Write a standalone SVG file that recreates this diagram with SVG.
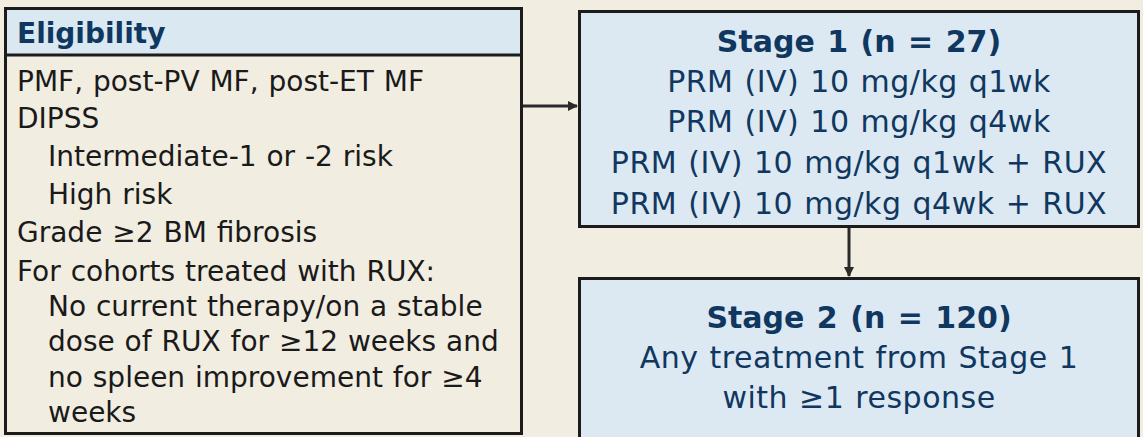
<svg xmlns="http://www.w3.org/2000/svg" width="1143" height="437" viewBox="0 0 1143 437">
<style>
.box{stroke:#1c1c1c;stroke-width:3}
.lt{font-family:"DejaVu Sans",Verdana,sans-serif;font-size:28px;fill:#1a1a1a;word-spacing:1px}
.hd{font-family:"DejaVu Sans",Verdana,sans-serif;font-size:28px;font-weight:bold;fill:#10375f}
.st{font-family:"DejaVu Sans",Verdana,sans-serif;font-size:30px;font-weight:bold;fill:#10375f;text-anchor:middle;word-spacing:2px}
.sl{font-family:"DejaVu Sans",Verdana,sans-serif;font-size:30px;fill:#10375f;text-anchor:middle;letter-spacing:0.5px;word-spacing:1px}
.conn{stroke:#2a2a2a;stroke-width:3;fill:none}
</style>
<defs>
<marker id="arr" markerWidth="10" markerHeight="10" refX="9" refY="5" orient="auto" markerUnits="userSpaceOnUse">
<path d="M0,0 L10,5 L0,10 Z" fill="#2a2a2a"/>
</marker>
</defs>
<rect width="1143" height="437" fill="#f1ede1"/>
<g id="eligibility">
<rect class="box" x="5.5" y="8.5" width="516" height="425" fill="#f1ede1"/>
<rect x="5.5" y="8.5" width="516" height="46.5" fill="#d9e8f1" class="box"/>
<text class="hd" x="17" y="43">Eligibility</text>
<text class="lt" x="17" y="91">PMF, post-PV MF, post-ET MF</text>
<text class="lt" x="17" y="128">DIPSS</text>
<text class="lt" x="48" y="166">Intermediate-1 or -2 risk</text>
<text class="lt" x="48" y="204">High risk</text>
<text class="lt" x="17" y="242">Grade ≥2 BM fibrosis</text>
<text class="lt" x="17" y="281">For cohorts treated with RUX:</text>
<text class="lt" x="48" y="316">No current therapy/on a stable</text>
<text class="lt" x="48" y="351">dose of RUX for ≥12 weeks and</text>
<text class="lt" x="48" y="387">no spleen improvement for ≥4</text>
<text class="lt" x="48" y="422">weeks</text>
</g>
<g id="stage1">
<rect class="box" x="579.5" y="11.5" width="559" height="215" fill="#dce9f2"/>
<text class="st" x="859" y="52">Stage 1 (n = 27)</text>
<text class="sl" x="859" y="92">PRM (IV) 10 mg/kg q1wk</text>
<text class="sl" x="859" y="132">PRM (IV) 10 mg/kg q4wk</text>
<text class="sl" x="859" y="173">PRM (IV) 10 mg/kg q1wk + RUX</text>
<text class="sl" x="859" y="214">PRM (IV) 10 mg/kg q4wk + RUX</text>
</g>
<g id="stage2">
<rect class="box" x="579.5" y="278.5" width="559" height="170" fill="#dce9f2"/>
<text class="st" x="859" y="328">Stage 2 (n = 120)</text>
<text class="sl" x="859" y="368">Any treatment from Stage 1</text>
<text class="sl" x="859" y="408">with ≥1 response</text>
</g>
<g id="connectors">
<line class="conn" x1="523" y1="106" x2="577" y2="106" marker-end="url(#arr)"/>
<line class="conn" x1="849" y1="228" x2="849" y2="276" marker-end="url(#arr)"/>
</g>
</svg>
